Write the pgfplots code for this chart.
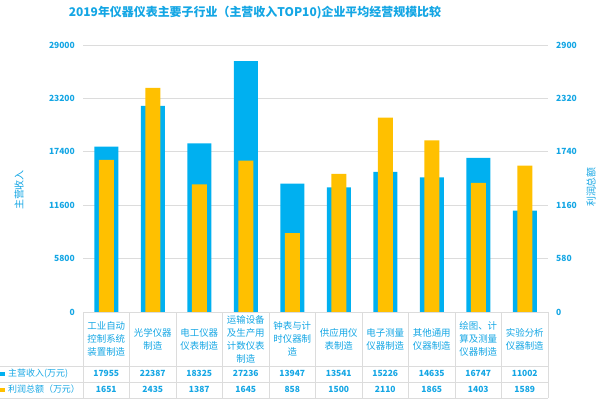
\documentclass[border=0pt]{standalone}
\usepackage{fontspec}
\setmainfont{Noto Sans CJK SC}
\usepackage{pgfplots}
\usepackage{pgfplotstable}
\pgfplotsset{compat=1.18}
\definecolor{cb}{HTML}{00B0F0}
\definecolor{cy}{HTML}{FFC000}
\definecolor{ct}{HTML}{14A6E4}
\definecolor{cg}{HTML}{DCDCDC}
\pgfplotstableread{
x rev prof
0 17955 1651
1 22387 2435
2 18325 1387
3 27236 1645
4 13947 858
5 13541 1500
6 15226 2110
7 14635 1865
8 16747 1403
9 11002 1589
}\data
\begin{document}
\begin{tikzpicture}[x=1bp,y=1bp]
\path[use as bounding box] (0,0) rectangle (600,399);
\begin{axis}[at={(83bp,87bp)},anchor=south west,width=465bp,height=267bp,scale only axis,
  xmin=-0.5,xmax=9.5,ymin=0,ymax=29000,
  ytick={0,5800,11600,17400,23200,29000},
  xtick=\empty,
  axis line style={draw=none},
  major tick length=0pt,
  ymajorgrids,grid style={cg,line width=0.8pt},
  scaled y ticks=false,
  /pgf/number format/assume math mode=true,
  /pgf/number format/set thousands separator={},
  yticklabel style={font=\fontsize{8.5}{10}\selectfont\bfseries,text=ct,anchor=east,inner sep=0pt,xshift=-8bp},
  clip=false]
\addplot[ybar,bar width=24bp,fill=cb,draw=none] table[x=x,y=rev] {\data};
\end{axis}
\begin{axis}[at={(83bp,87bp)},anchor=south west,width=465bp,height=267bp,scale only axis,
  xmin=-0.5,xmax=9.5,ymin=0,ymax=2900,
  ytick={0,580,1160,1740,2320,2900},
  yticklabel pos=right,
  xtick=\empty,
  axis line style={draw=none},
  major tick length=0pt,
  scaled y ticks=false,
  /pgf/number format/assume math mode=true,
  /pgf/number format/set thousands separator={},
  yticklabel style={font=\fontsize{8.5}{10}\selectfont\bfseries,text=ct,anchor=west,inner sep=0pt,xshift=8bp},
  clip=false]
\addplot[ybar,bar width=15bp,fill=cy,draw=none] table[x=x,y=prof] {\data};
\end{axis}
% title and axis labels
\node[text=ct,font=\fontsize{12}{14}\selectfont\bfseries] at (255,386) {2019年仪器仪表主要子行业（主营收入TOP10)企业平均经营规模比较};
\node[rotate=90,text=ct,font=\fontsize{10}{11}\selectfont] at (19,209) {主营收入};
\node[rotate=90,text=ct,font=\fontsize{10}{11}\selectfont] at (591,212) {利润总额};
% table grid
\draw[cg,line width=0.8pt] (83,87) -- (548,87);
\draw[cg,line width=0.8pt] (0,33) -- (548,33);
\draw[cg,line width=0.8pt] (0,17) -- (548,17);
\draw[cg,line width=0.8pt] (0,1) -- (548,1);
\foreach \k in {0,...,10} {\draw[cg,line width=0.8pt] ({83+46.5*\k},87) -- ({83+46.5*\k},1);}
% category labels
\foreach \i/\t in {0/{工业自动\\控制系统\\装置制造},1/{光学仪器\\制造},2/{电工仪器\\仪表制造},3/{运输设备\\及生产用\\计数仪表\\制造},4/{钟表与计\\时仪器制\\造},5/{供应用仪\\表制造},6/{电子测量\\仪器制造},7/{其他通用\\仪器制造},8/{绘图、计\\算及测量\\仪器制造},9/{实验分析\\仪器制造}}
  {\node[align=center,text=ct,font=\fontsize{9.5}{13}\selectfont] at ({83+46.5*(\i+0.5)},60) {\t};}
% data rows
\foreach \i/\a/\b in {0/17955/1651,1/22387/2435,2/18325/1387,3/27236/1645,4/13947/858,5/13541/1500,6/15226/2110,7/14635/1865,8/16747/1403,9/11002/1589}
  {\node[text=ct,font=\fontsize{8.5}{10}\selectfont\bfseries] at ({83+46.5*(\i+0.5)},25.5) {\a};
   \node[text=ct,font=\fontsize{8.5}{10}\selectfont\bfseries] at ({83+46.5*(\i+0.5)},9.5) {\b};}
\fill[cb] (0.5,23.5) rectangle (4.5,27.5);
\fill[cy] (0.5,7.5) rectangle (4.5,11.5);
\node[anchor=west,text=ct,font=\fontsize{9}{10}\selectfont,inner sep=0pt] at (8,25.5) {主营收入(万元)};
\node[anchor=west,text=ct,font=\fontsize{9}{10}\selectfont,inner sep=0pt] at (8,9.5) {利润总额（万元）};
\end{tikzpicture}
\end{document}
